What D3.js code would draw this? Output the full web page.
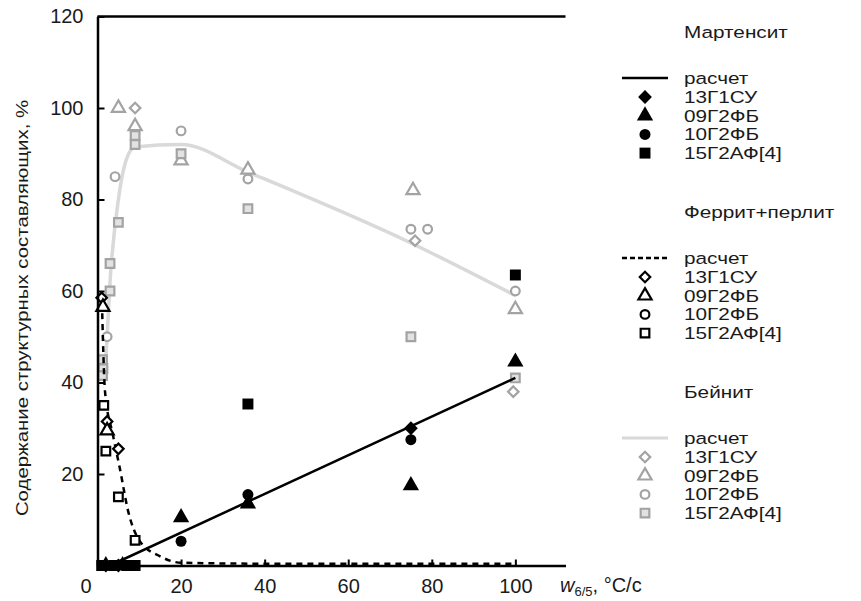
<!DOCTYPE html>
<html>
<head>
<meta charset="utf-8">
<script src="https://cdn.jsdelivr.net/npm/d3@7"></script>
<style>
  body { margin: 0; background: #fff; }
  text { font-family: "Liberation Sans", Arial, sans-serif; fill: #1a1a1a; }
</style>
</head>
<body>
<svg id="chart" width="861" height="601"></svg>
<script>
// axis ticks
var xTicks = [0, 20, 40, 60, 80, 100];
var yTicks = [20, 40, 60, 80, 100, 120];

// Мартенсит (black filled)
var martCalc = [[3, 0], [100, 41]];
var mart13 = [[2, 0], [5, 0], [75, 30]];
var mart09 = [[2, 0], [6, 0], [20, 10.5], [36, 13.5], [75, 17.5], [100, 44.5]];
var mart10 = [[3, 0], [20, 5.3], [36, 15.5], [75, 27.5]];
var mart15 = [[1, 0], [4, 0], [7, 0], [9, 0], [36, 35.3], [100, 63.5]];

// Феррит+перлит (black hollow)
var ferCalc = [[1, 60], [1.8, 38], [3.7, 28.5], [5.4, 21], [7.3, 12], [10, 5.5], [15, 2], [20, 0.6], [40, 0.4], [100, 0.4]];
var fer13 = [[1, 58.5], [2.3, 31.5], [5, 25.5]];
var fer09 = [[1.3, 56.5], [2.3, 29.5]];
var fer10 = [];
var fer15 = [[1.5, 35], [2, 25], [5, 15], [9, 5.5]];

// Бейнит (gray)
var bainCalc = [[2, 45], [3, 62], [5, 80], [7, 89], [9, 91.5], [20, 92], [36, 86], [75, 70.5], [100, 59]];
var bain13 = [[9, 100], [76, 71], [99.5, 38]];
var bain09 = [[5, 100], [9, 96], [20, 88.5], [36, 86.5], [75.5, 82], [100, 56]];
var bain10 = [[2.3, 50], [4.2, 85], [20, 95], [36, 84.5], [75, 73.5], [79, 73.5], [100, 60]];
var bain15 = [[1.2, 45], [1.3, 43], [1.2, 41.5], [3, 60], [3, 66], [5, 75], [9, 92], [9, 94], [20, 90], [36, 78], [75, 50], [100, 41]];

var steels = ["13Г1СУ", "09Г2ФБ", "10Г2ФБ", "15Г2АФ[4]"];

var svg = d3.select("#chart");
var x = d3.scaleLinear().domain([0, 112]).range([97.5, 565.5]);
var y = d3.scaleLinear().domain([0, 120]).range([565.5, 16.5]);

var GRAY = "#a3a3a3";

// symbol shapes
var shapes = {
  diamond: d3.symbol().type(d3.symbolSquare),
  triangle: d3.symbol().type(d3.symbolTriangle),
  circle: d3.symbol().type(d3.symbolCircle),
  square: d3.symbol().type(d3.symbolSquare)
};
var shapeOf = ["diamond", "triangle", "circle", "square"];
var sizeFilled = { diamond: 95, triangle: 115, circle: 95, square: 120 };
var sizeHollow = { diamond: 55, triangle: 75, circle: 60, square: 75 };

function marker(g, kind, style) {
  var hollow = style != "black";
  var s = hollow ? sizeHollow[kind] : sizeFilled[kind];
  var p = g.append("path").attr("d", shapes[kind].size(s)());
  if (kind == "diamond") p.attr("transform", "rotate(45)");
  if (style == "black") p.attr("fill", "#000");
  else if (style == "open") p.attr("fill", "#fff").attr("stroke", "#000").attr("stroke-width", 2.2);
  else p.attr("fill", kind == "square" ? "#e2e2e2" : "#fff").attr("stroke", GRAY).attr("stroke-width", 2.2);
  return p;
}

function plotPoints(pts, kind, style) {
  pts.forEach(function (d) {
    var g = svg.append("g").attr("transform", "translate(" + x(d[0]) + "," + y(d[1]) + ")");
    marker(g, kind, style);
  });
}

var line = d3.line().x(d => x(d[0])).y(d => y(d[1]));
var smooth = d3.line().x(d => x(d[0])).y(d => y(d[1])).curve(d3.curveMonotoneX);

// bainite calc line (light gray)
svg.append("path").attr("d", smooth(bainCalc))
  .attr("fill", "none").attr("stroke", "#d9d9d9").attr("stroke-width", 3.5);

[bain13, bain09, bain10, bain15].forEach((pts, i) => plotPoints(pts, shapeOf[i], "gray"));

// ferrite calc (dashed)
svg.append("path").attr("d", smooth(ferCalc))
  .attr("fill", "none").attr("stroke", "#000").attr("stroke-width", 2.5)
  .attr("stroke-dasharray", "6,5");

[fer13, fer09, fer10, fer15].forEach((pts, i) => plotPoints(pts, shapeOf[i], "open"));

// martensite calc
svg.append("path").attr("d", line(martCalc))
  .attr("fill", "none").attr("stroke", "#000").attr("stroke-width", 2.5);

[mart13, mart09, mart10, mart15].forEach((pts, i) => plotPoints(pts, shapeOf[i], "black"));

// axes
var yAxis = svg.append("g").attr("transform", "translate(" + x(0) + ",0)")
  .call(d3.axisLeft(y).tickValues(yTicks).tickSizeInner(-7).tickSizeOuter(0).tickPadding(14));
var xAxis = svg.append("g").attr("transform", "translate(0," + y(0) + ")")
  .call(d3.axisBottom(x).tickValues(xTicks).tickSizeInner(-6).tickSizeOuter(0).tickPadding(13));
[yAxis, xAxis].forEach(function (a) {
  a.select(".domain").attr("stroke-width", 2.5);
  a.selectAll(".tick line").attr("stroke-width", 2);
  a.selectAll(".tick text").attr("font-size", 20).attr("font-family", "Liberation Sans, Arial, sans-serif").attr("fill", "#1a1a1a");
});
xAxis.selectAll(".tick").filter(d => d == 0).select("text").attr("dx", -12);
xAxis.selectAll(".tick").filter(d => d == 0).select("line").remove();

// top border
svg.append("line").attr("x1", x(0)).attr("x2", x(112)).attr("y1", y(120)).attr("y2", y(120))
  .attr("stroke", "#000").attr("stroke-width", 2.5);

// axis titles
svg.append("text")
  .attr("transform", "translate(28,308) rotate(-90) scale(1.2,1)")
  .attr("text-anchor", "middle").attr("font-size", 17)
  .text("Содержание структурных составляющих, %");

var xl = svg.append("text").attr("x", 560).attr("y", 592).attr("font-size", 20);
xl.append("tspan").attr("font-style", "italic").text("w");
xl.append("tspan").attr("font-size", 13).attr("dy", 4).text("6/5");
xl.append("tspan").attr("dy", -4).text(", °C/c");

// legend
var legendGroups = [
  { title: "Мартенсит", top: 32, style: "black", dash: null, lineColor: "#000", lineW: 2.5 },
  { title: "Феррит+перлит", top: 212, style: "open", dash: "5,3", lineColor: "#000", lineW: 2.5 },
  { title: "Бейнит", top: 392, style: "gray", dash: null, lineColor: "#d9d9d9", lineW: 3 }
];

function legendText(tx, ty, str) {
  svg.append("g").attr("transform", "translate(" + tx + "," + ty + ") scale(1.22,1)")
    .append("text").attr("font-size", 17).attr("dy", "0.35em").text(str);
}

legendGroups.forEach(function (gr) {
  legendText(684, gr.top, gr.title);
  var ly = gr.top + 46;
  svg.append("line").attr("x1", 622).attr("x2", 668).attr("y1", ly).attr("y2", ly)
    .attr("stroke", gr.lineColor).attr("stroke-width", gr.lineW)
    .attr("stroke-dasharray", gr.dash);
  legendText(684, ly, "расчет");
  steels.forEach(function (s, i) {
    var ry = ly + 19 + i * 18.7;
    var g = svg.append("g").attr("transform", "translate(645," + ry + ")");
    marker(g, shapeOf[i], gr.style);
    legendText(684, ry, s);
  });
});
</script>
</body>
</html>
